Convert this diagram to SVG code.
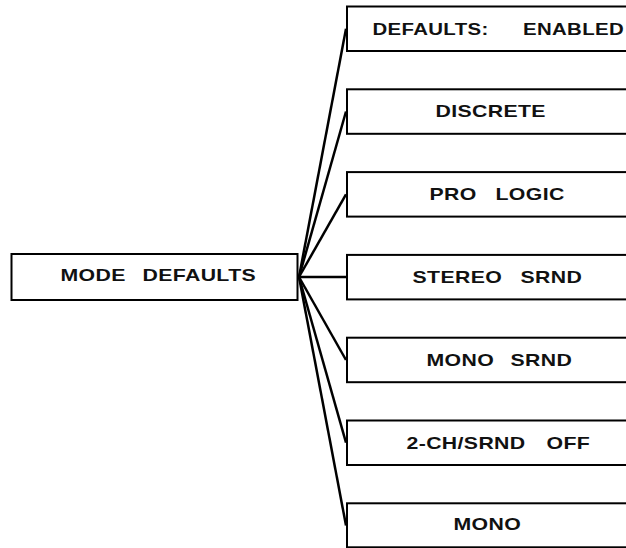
<svg xmlns="http://www.w3.org/2000/svg" width="626" height="548" viewBox="0 0 626 548">
  <style>
    .box { fill: #ffffff; stroke: #000000; stroke-width: 2; }
    .wire { fill: none; stroke: #000000; stroke-width: 2.5; stroke-linecap: butt; }
    .lbl { font-family: "Liberation Sans", Arial, Helvetica, sans-serif; font-weight: bold; font-size: 17px; letter-spacing: 0.3px; fill: #111111; }
  </style>
  <rect x="0" y="0" width="626" height="548" fill="#ffffff"/>

  <!-- fan-out connectors from the root node to each option -->
  <g id="connectors">
    <line class="wire" x1="299" y1="277" x2="346" y2="28.7"/>
    <line class="wire" x1="299" y1="277" x2="346" y2="111.5"/>
    <line class="wire" x1="299" y1="277" x2="346" y2="194.3"/>
    <line class="wire" x1="298" y1="277" x2="347" y2="277"/>
    <line class="wire" x1="299" y1="277" x2="346" y2="360"/>
    <line class="wire" x1="299" y1="277" x2="346" y2="442.7"/>
    <line class="wire" x1="299" y1="277" x2="346" y2="525.5"/>
  </g>

  <g id="mode-defaults">
    <rect class="box" x="11.5" y="254" width="286" height="46"/>
    <text class="lbl" transform="scale(1.25,1)" y="281.5"><tspan x="48.4">MODE</tspan><tspan x="114">DEFAULTS</tspan></text>
  </g>

  <g id="defaults-enabled">
    <rect class="box" x="347" y="6.5" width="290" height="44.5"/>
    <text class="lbl" transform="scale(1.2,1)" y="35"><tspan x="310.4">DEFAULTS:</tspan><tspan x="435.8">ENABLED</tspan></text>
  </g>

  <g id="discrete">
    <rect class="box" x="347" y="89.3" width="290" height="44.5"/>
    <text class="lbl" transform="scale(1.25,1)" y="117.5"><tspan x="348.4">DISCRETE</tspan></text>
  </g>

  <g id="pro-logic">
    <rect class="box" x="347" y="172.1" width="290" height="44.5"/>
    <text class="lbl" transform="scale(1.25,1)" y="200.5"><tspan x="343.6">PRO</tspan><tspan x="396.4">LOGIC</tspan></text>
  </g>

  <g id="stereo-srnd">
    <rect class="box" x="347" y="254.9" width="290" height="44.5"/>
    <text class="lbl" transform="scale(1.25,1)" y="283"><tspan x="330">STEREO</tspan><tspan x="416.4">SRND</tspan></text>
  </g>

  <g id="mono-srnd">
    <rect class="box" x="347" y="337.7" width="290" height="44.5"/>
    <text class="lbl" transform="scale(1.25,1)" y="366"><tspan x="341.2">MONO</tspan><tspan x="408.4">SRND</tspan></text>
  </g>

  <g id="two-ch-srnd-off">
    <rect class="box" x="347" y="420.5" width="290" height="44.5"/>
    <text class="lbl" transform="scale(1.25,1)" y="449"><tspan x="325.2">2-CH/SRND</tspan><tspan x="437.2">OFF</tspan></text>
  </g>

  <g id="mono">
    <rect class="box" x="347" y="503.3" width="290" height="44"/>
    <text class="lbl" transform="scale(1.25,1)" y="530"><tspan x="362.8">MONO</tspan></text>
  </g>
</svg>
